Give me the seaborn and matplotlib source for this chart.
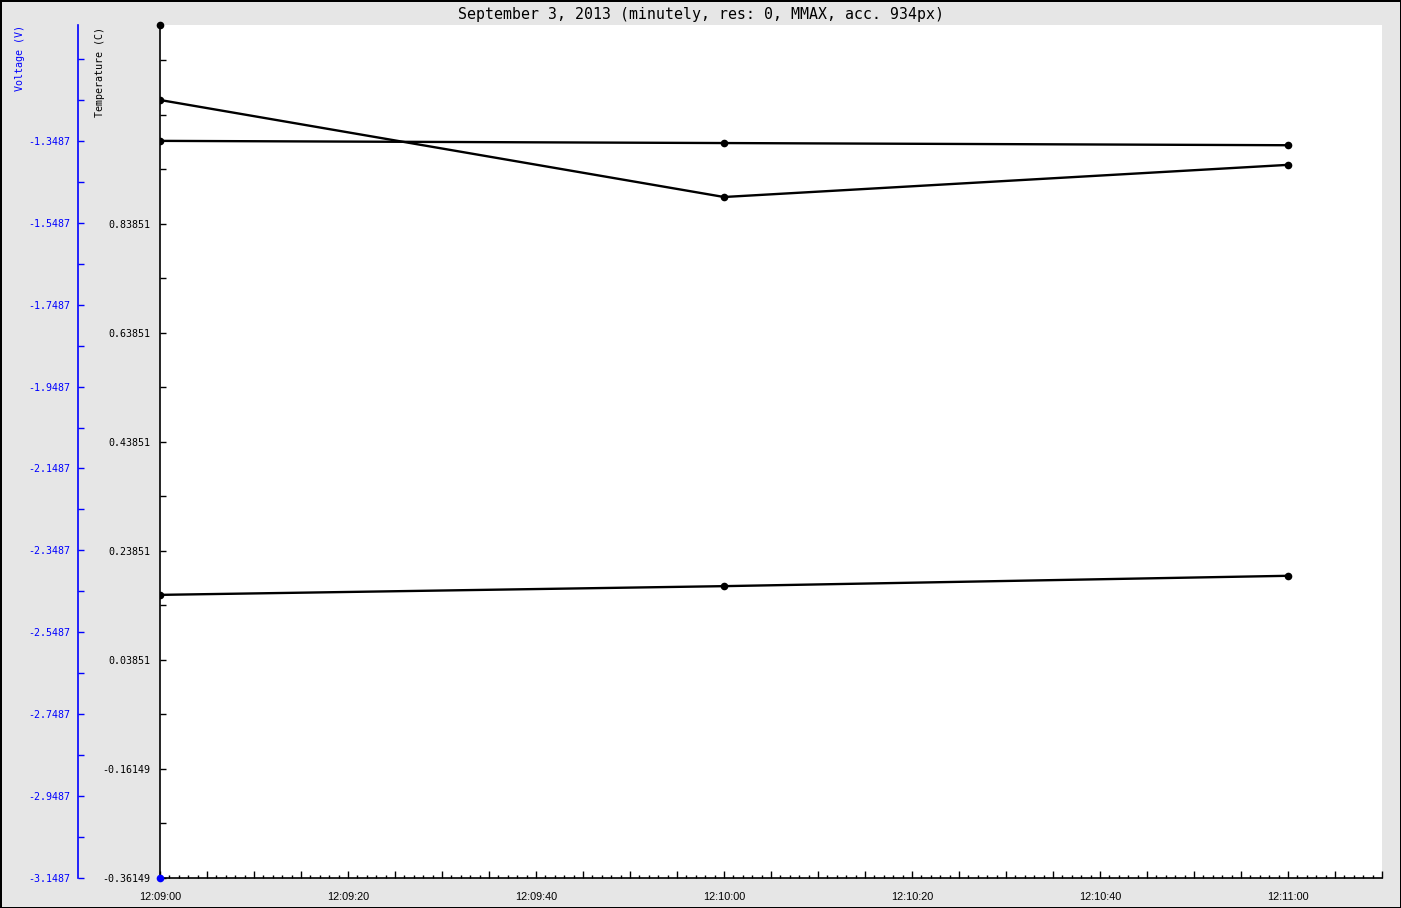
import matplotlib
matplotlib.use("Agg")
import matplotlib.dates as mdates
import matplotlib.pyplot as plt
import pandas as pd
import seaborn as sns
from matplotlib.ticker import FixedFormatter, FixedLocator, FuncFormatter


TITLE = "September 3, 2013 (minutely, res: 0, MMAX, acc. 934px)"

# temperature series (three sensors, all drawn in black)
times = ["2013-09-03 12:09:00", "2013-09-03 12:10:00", "2013-09-03 12:11:00"]
temp_a = [1.066, 0.888, 0.947]
temp_b = [0.991, 0.987, 0.983]
temp_c = [0.158, 0.174, 0.193]

# lone points at the start of the window
peak_time = ["2013-09-03 12:09:00"]
peak_temp = [1.2036]
volt_time = ["2013-09-03 12:09:00"]
volt_values = [-3.1487]

x_start = "2013-09-03 12:09:00"
x_end = "2013-09-03 12:11:10"
temp_limits = (-0.36149, 1.2036)
volt_limits = (-3.1487, -1.0657)

temp_ticks = [-0.36149, -0.26149, -0.16149, -0.06149, 0.03851, 0.13851, 0.23851, 0.33851,
              0.43851, 0.53851, 0.63851, 0.73851, 0.83851, 0.93851, 1.03851, 1.13851]
temp_labels = ["-0.36149", "", "-0.16149", "", "0.03851", "", "0.23851", "",
               "0.43851", "", "0.63851", "", "0.83851", "", "", ""]
volt_ticks = [-3.1487, -3.0487, -2.9487, -2.8487, -2.7487, -2.6487, -2.5487, -2.4487,
              -2.3487, -2.2487, -2.1487, -2.0487, -1.9487, -1.8487, -1.7487, -1.6487,
              -1.5487, -1.4487, -1.3487, -1.2487, -1.1487]
volt_labels = ["-3.1487", "", "-2.9487", "", "-2.7487", "", "-2.5487", "",
               "-2.3487", "", "-2.1487", "", "-1.9487", "", "-1.7487", "",
               "-1.5487", "", "-1.3487", "", ""]

BG = "#e6e6e6"
BLUE = "#0000ff"
MONO = "DejaVu Sans Mono"

sns.set_theme(style="white", rc={"axes.linewidth": 1.2})
plt.rcParams["font.family"] = ["DejaVu Sans Mono", "DejaVu Sans"]

df = pd.DataFrame({
    "time": pd.to_datetime(times * 3),
    "temp": temp_a + temp_b + temp_c,
    "series": ["a"] * 3 + ["b"] * 3 + ["c"] * 3,
})

fig = plt.figure(figsize=(14.01, 9.08), dpi=100)
fig.patch.set_facecolor(BG)
fig.patch.set_edgecolor("black")
fig.patch.set_linewidth(2)

ax = fig.add_axes([160 / 1401, 30 / 908, 1222 / 1401, 853 / 908])
ax.set_facecolor("white")

sns.lineplot(
    data=df, x="time", y="temp", hue="series",
    palette={"a": "black", "b": "black", "c": "black"},
    estimator=None, marker="o", markersize=5.5, markeredgewidth=0,
    linewidth=1.7, legend=False, ax=ax,
)
ax.plot(pd.to_datetime(peak_time), peak_temp, "o", color="black",
        markersize=5.5, markeredgewidth=0, clip_on=False, zorder=5)

ax.set_xlim(pd.Timestamp(x_start), pd.Timestamp(x_end))
ax.set_ylim(*temp_limits)
ax.set_xlabel("")
ax.set_ylabel("")

for side in ("top", "right"):
    ax.spines[side].set_visible(False)
for side in ("left", "bottom"):
    ax.spines[side].set_color("black")

ax.xaxis.set_major_locator(mdates.SecondLocator(bysecond=range(0, 60, 5)))
ax.xaxis.set_minor_locator(mdates.SecondLocator())


def time_label(x, pos):
    t = mdates.num2date(x)
    return t.strftime("%H:%M:%S") if t.second % 20 == 0 else ""


ax.xaxis.set_major_formatter(FuncFormatter(time_label))
ax.tick_params(axis="x", which="both", bottom=True, top=False)
ax.tick_params(axis="x", which="major", direction="in", length=5, width=1,
               color="black", pad=10, labelsize=7.8, labelcolor="black")
ax.tick_params(axis="x", which="minor", direction="in", length=2.5, width=1, color="black")
for lbl in ax.get_xticklabels():
    lbl.set_family("Liberation Sans")

ax.yaxis.set_major_locator(FixedLocator(temp_ticks))
ax.yaxis.set_major_formatter(FixedFormatter(temp_labels))
ax.tick_params(axis="y", which="major", left=True, direction="in", length=4, width=1,
               color="black", pad=7, labelsize=7.2, labelcolor="black")

# voltage axis pushed out to the left
ax2 = ax.twinx()
ax2.set_ylim(*volt_limits)
for side in ("top", "right", "bottom"):
    ax2.spines[side].set_visible(False)
ax2.spines["left"].set_visible(True)
ax2.spines["left"].set_position(("outward", 59))
ax2.spines["left"].set_color(BLUE)
ax2.yaxis.set_ticks_position("left")
ax2.yaxis.set_major_locator(FixedLocator(volt_ticks))
ax2.yaxis.set_major_formatter(FixedFormatter(volt_labels))
ax2.tick_params(axis="y", which="major", left=True, direction="in", length=4, width=1,
                color=BLUE, pad=5.5, labelsize=7.2, labelcolor=BLUE)
ax2.plot(pd.to_datetime(volt_time), volt_values, "o", color=BLUE,
         markersize=5.5, markeredgewidth=0, clip_on=False, zorder=6)
ax2.grid(False)
ax.grid(False)

fig.text(20 / 1401, 1 - 25 / 908, "Voltage (V)", rotation=90, ha="center", va="top",
         color=BLUE, fontsize=7.2, family=MONO)
fig.text(100 / 1401, 1 - 27 / 908, "Temperature (C)", rotation=90, ha="center", va="top",
         color="black", fontsize=7.2, family=MONO)
fig.text(0.5, 1 - 14 / 908, TITLE, ha="center", va="center", color="black",
         fontsize=10.7, family=MONO)

fig.savefig("out.png", dpi=100, facecolor=BG, edgecolor="black")
